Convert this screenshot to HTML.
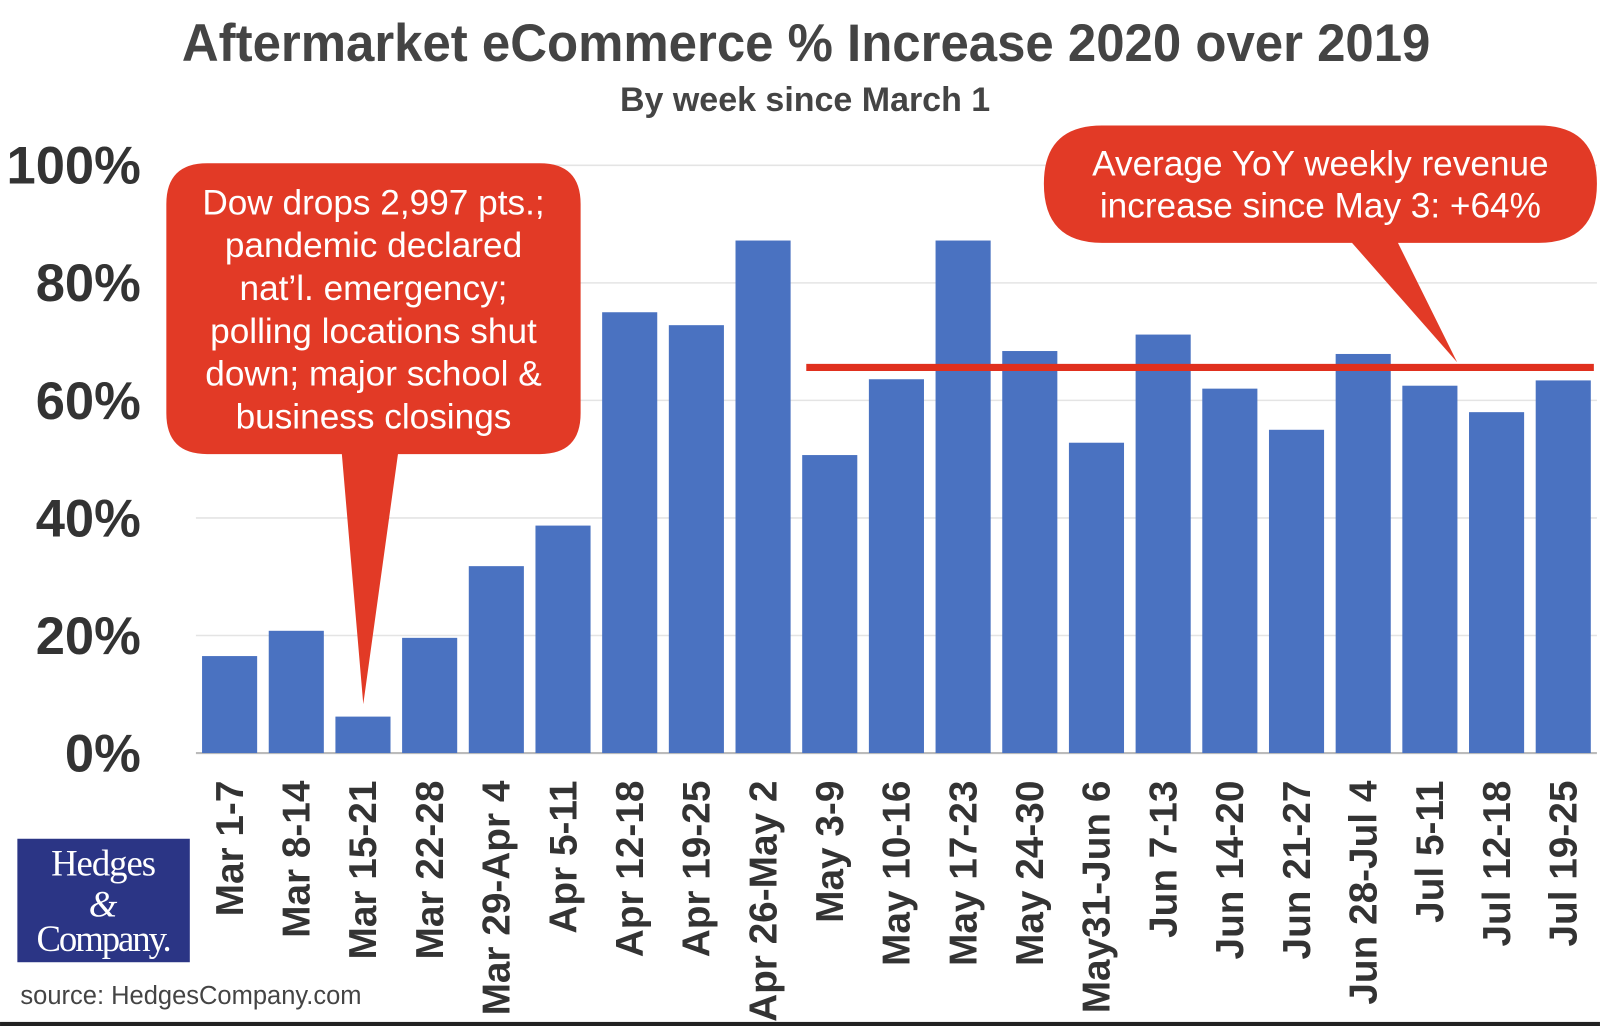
<!DOCTYPE html>
<html><head><meta charset="utf-8"><style>
html,body{margin:0;padding:0;background:#fff;}
svg{display:block;}
</style></head><body>
<svg id="chart" width="1600" height="1026" viewBox="0 0 1568 1005.5" xmlns="http://www.w3.org/2000/svg" font-family="Liberation Sans, sans-serif">
<rect width="1568" height="1006" fill="#fff"/>
<text x="790" y="60" text-anchor="middle" font-size="52" font-weight="bold" fill="#444" transform="translate(790 0) scale(0.96 1) translate(-790 0)">Aftermarket eCommerce % Increase 2020 over 2019</text>
<text x="789" y="109" text-anchor="middle" font-size="34" font-weight="bold" fill="#444" transform="translate(789 0) scale(0.98 1) translate(-789 0)">By week since March 1</text>
<g id="grid"></g>
<g id="yticks"></g>
<g id="bars"></g>
<g id="xlabels"></g>
<line id="avgline" stroke="#e0301e" stroke-width="7"/>
<g>
<path fill="#e23a26" d="M203,160 H529 Q569,160 569,200 V405 Q569,445 529,445 H390 L356,690 L335,445 H203 Q163,445 163,405 V200 Q163,160 203,160 Z"/>
<g font-size="34.5" fill="#fff" text-anchor="middle">
<text x="366" y="210">Dow drops 2,997 pts.;</text>
<text x="366" y="252">pandemic declared</text>
<text x="366" y="294">nat’l. emergency;</text>
<text x="366" y="336">polling locations shut</text>
<text x="366" y="378">down; major school &amp;</text>
<text x="366" y="420">business closings</text>
</g></g>
<g>
<path fill="#e23a26" d="M1080,123 H1508 Q1565,123 1565,180 Q1565,238 1508,238 H1370 L1428,355 L1325,238 H1080 Q1023,238 1023,180 Q1023,123 1080,123 Z"/>
<g font-size="34.5" fill="#fff" text-anchor="middle">
<text x="1294" y="172">Average YoY weekly revenue</text>
<text x="1294" y="213">increase since May 3: +64%</text>
</g></g>
<g>
<rect x="17" y="822" width="169" height="121" fill="#2b3585"/>
<text x="101" y="858" text-anchor="middle" font-family="Liberation Serif, serif" font-size="36" fill="#fff" letter-spacing="-1">Hedges</text>
<text x="101" y="898" text-anchor="middle" font-family="Liberation Serif, serif" font-style="italic" font-size="36" fill="#fff">&amp;</text>
<text x="101" y="932" text-anchor="middle" font-family="Liberation Serif, serif" font-size="36" fill="#fff" letter-spacing="-2">Company.</text>
</g>
<text x="20" y="984" font-size="25" fill="#444">source:  HedgesCompany.com</text>
<rect x="0" y="1001.5" width="1568" height="4" fill="#222"/>
</svg>
<script>
const categories = ["Mar 1-7","Mar 8-14","Mar 15-21","Mar 22-28","Mar 29-Apr 4","Apr 5-11","Apr 12-18","Apr 19-25","Apr 26-May 2","May 3-9","May 10-16","May 17-23","May 24-30","May31-Jun 6","Jun 7-13","Jun 14-20","Jun 21-27","Jun 28-Jul 4","Jul 5-11","Jul 12-18","Jul 19-25"];
const values = [16.5,20.8,6.2,19.6,31.8,38.7,75,72.8,87.2,50.7,63.6,87.2,68.4,52.8,71.2,62,55,67.9,62.5,58,63.4];
const yTicks = [0,20,40,60,80,100];
const yTickLabels = ["0%","20%","40%","60%","80%","100%"];
const averageValue = 65.6;
const averageStartIndex = 9;

const NS = "http://www.w3.org/2000/svg";
const y0 = 738, yTop = 162, plotLeft = 192, plotRight = 1565;
const firstX = 198, pitch = 65.35, barW = 54;
function yScale(v){ return y0 - (v/100)*(y0 - yTop); }
function xScale(i){ return firstX + i*pitch; }
function mk(tag, attrs){ const e = document.createElementNS(NS, tag); for (const k in attrs) e.setAttribute(k, attrs[k]); return e; }

const grid = document.getElementById('grid');
const yt = document.getElementById('yticks');
yTicks.forEach((t, i) => {
  const y = yScale(t);
  const l = mk('line', {x1: plotLeft, x2: plotRight, y1: y, y2: y, stroke: i === 0 ? '#bbb' : '#e4e4e4', 'stroke-width': i === 0 ? 2 : 1.5});
  
  
  grid.appendChild(l);
  const tx = mk('text', {x: 138, y: y + 18, 'text-anchor': 'end', 'font-size': 52, 'font-weight': 'bold', fill: '#333', transform: `translate(138 0) scale(0.99 1) translate(-138 0)`});
  tx.textContent = yTickLabels[i];
  
  
  yt.appendChild(tx);
});

const bars = document.getElementById('bars');
const xl = document.getElementById('xlabels');
values.forEach((v, i) => {
  const x = xScale(i);
  const r = mk('rect', {x: x, y: yScale(v), width: barW, height: y0 - yScale(v), fill: '#4a72c1'});
  
  
  bars.appendChild(r);
  const cx = x + barW/2 + 13;
  const t = mk('text', {x: 0, y: 0, 'text-anchor': 'end', 'font-size': 38, 'font-weight': 'bold', fill: '#333', transform: `translate(${cx} 765) rotate(-90)`});
  t.textContent = categories[i];
  
  
  xl.appendChild(t);
});

const al = document.getElementById('avgline');
al.setAttribute('x1', xScale(averageStartIndex) + 4);
al.setAttribute('x2', plotRight - 3);
al.setAttribute('y1', yScale(averageValue));
al.setAttribute('y2', yScale(averageValue));
</script>
</body></html>
